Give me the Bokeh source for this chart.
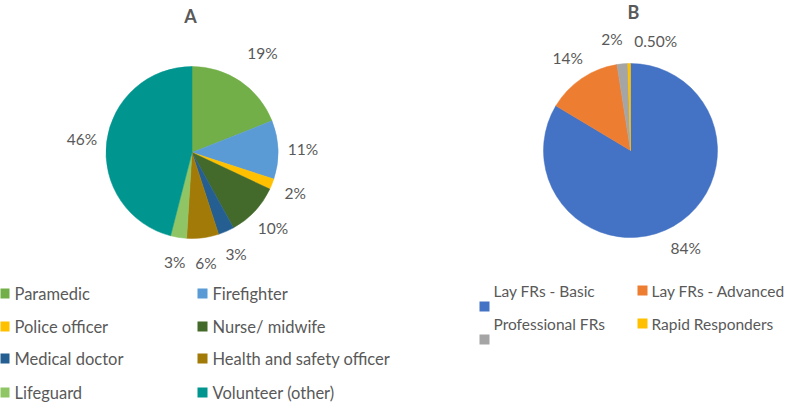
import math
from bokeh.plotting import figure
from bokeh.models import Range1d, ColumnDataSource
from bokeh.core.properties import value
from bokeh.embed import file_html
from bokeh.resources import INLINE

# ---- data ----
a_categories = ["Paramedic", "Firefighter", "Police officer", "Nurse/ midwife",
                "Medical doctor", "Health and safety officer", "Lifeguard", "Volunteer (other)"]
a_values = [19, 11, 2, 10, 3, 6, 3, 46]
a_labels = ["19%", "11%", "2%", "10%", "3%", "6%", "3%", "46%"]
a_colors = ["#72AF48", "#5B9BD5", "#FFC000", "#436A2B", "#255E91", "#A27A08", "#8FC565", "#00968F"]

b_categories = ["Lay FRs - Basic", "Lay FRs - Advanced", "Professional FRs", "Rapid Responders"]
b_values = [84, 14, 2, 0.5]
b_labels = ["84%", "14%", "2%", "0.50%"]
b_colors = ["#4472C4", "#ED7D31", "#A5A5A5", "#FFC000"]

W, H = 787, 402
FONT = "Lato"
TXT = "#595959"

def X(xi):
    return xi

def Y(yi):
    return H - yi

p = figure(width=W, height=H, x_range=Range1d(0, W), y_range=Range1d(0, H),
           output_backend="svg", toolbar_location=None, min_border=0)
p.axis.visible = False
p.grid.visible = False
p.outline_line_color = None
p.background_fill_color = "white"

def pie(vals, colors, labels, cx, cy, r, lab_r, nudges):
    tot = float(sum(vals))
    starts, ends, mids = [], [], []
    acc = 0.0
    for v in vals:
        starts.append(math.pi / 2 - acc / tot * 2 * math.pi)
        acc += v
        ends.append(math.pi / 2 - acc / tot * 2 * math.pi)
        mids.append((starts[-1] + ends[-1]) / 2)
    src = ColumnDataSource(dict(start=starts, end=ends, color=colors))
    p.wedge(x=X(cx), y=Y(cy), radius=r, radius_units="screen",
            start_angle="start", end_angle="end", direction="clock",
            fill_color="color", line_color="color", line_width=0.5, source=src)
    lx = [X(cx) + lab_r * math.cos(m) + nudges[i][0] for i, m in enumerate(mids)]
    ly = [Y(cy) + lab_r * math.sin(m) + nudges[i][1] for i, m in enumerate(mids)]
    p.text(x=lx, y=ly, text=labels, text_align="center", text_baseline="middle",
           text_font=value(FONT), text_font_size="15.5px", text_color=TXT)

pie(a_values, a_colors, a_labels, 191.5, 152, 86, 111,
    [(8, 8), (0, 0), (0, 0), (0, 0), (0, 0), (0, 0), (0, 0), (0, 0)])
pie(b_values, b_colors, b_labels, 630, 150, 87, 112,
    [(0, 0), (0, 0), (-8, 0), (27, -2)])

# titles
p.text(x=[X(190), X(633)], y=[Y(15), Y(11)], text=["A", "B"], text_align="center",
       text_baseline="middle", text_font=value(FONT), text_font_size="18px",
       text_font_style="bold", text_color=TXT)

# legend A (two columns, four rows)
a_lx = [X(4) if i % 2 == 0 else X(202) for i in range(8)]
a_ly = [Y([293, 326, 358, 392][i // 2]) for i in range(8)]
p.scatter(x=a_lx, y=a_ly, marker="square", size=10, fill_color=a_colors, line_color=None)
p.text(x=[x + 10 for x in a_lx], y=a_ly, text=a_categories, text_align="left",
       text_baseline="middle", text_font=value(FONT), text_font_size="16.5px", text_color=TXT)

# legend B
b_mx = [X(484), X(642), X(484), X(642)]
b_my = [Y(306), Y(290), Y(339), Y(323)]
b_tx = [X(493), X(651), X(493), X(651)]
b_ty = [Y(290), Y(290), Y(323), Y(323)]
p.scatter(x=b_mx, y=b_my, marker="square", size=10, fill_color=b_colors, line_color=None)
p.text(x=b_tx, y=b_ty, text=b_categories, text_align="left",
       text_baseline="middle", text_font=value(FONT), text_font_size="15.5px", text_color=TXT)

open("out.html", "w").write(file_html(p, INLINE))
